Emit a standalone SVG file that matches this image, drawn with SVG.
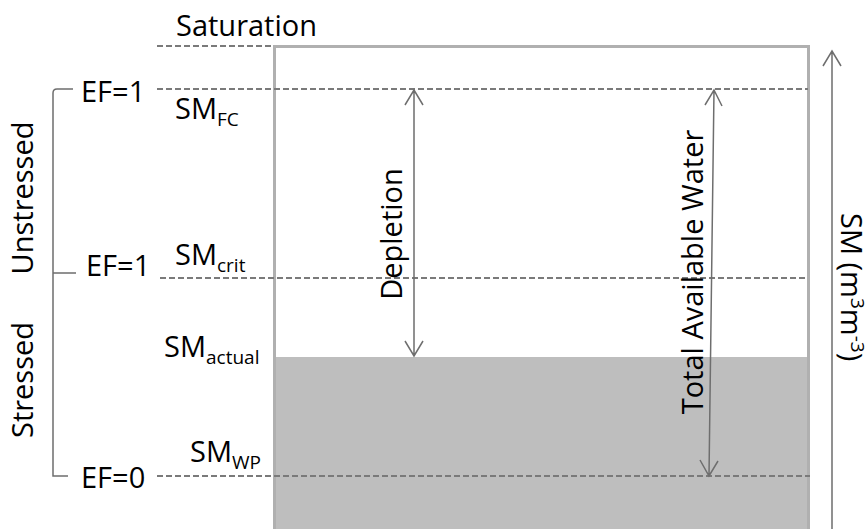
<svg xmlns="http://www.w3.org/2000/svg" width="867" height="529" viewBox="0 0 867 529">
<style>
text{font-family:"Open Sans","Liberation Sans",sans-serif;fill:#000;font-size:29px}
.sub{font-size:19px}
.dash{stroke:#7a7a7a;stroke-width:2;stroke-dasharray:6 3;fill:none}
.ln{stroke:#6e6e6e;stroke-width:1.5;fill:none}
.box{stroke:#b0b0b0;stroke-width:3;fill:none}
</style>
<rect x="0" y="0" width="867" height="529" fill="#fff"/>
<g id="soil">
<rect x="274" y="357" width="535" height="172" fill="#bebebe"/>
<path class="box" d="M274.5 529 V46.5 H808.5 V529"/>
</g>
<g id="levels">
<line class="dash" x1="157" y1="46" x2="273" y2="46"/>
<line class="dash" x1="157" y1="89" x2="808" y2="89"/>
<line class="dash" x1="160" y1="278" x2="808" y2="278"/>
<line class="dash" x1="157" y1="476" x2="810" y2="476"/>
</g>
<g id="bracket">
<path class="ln" d="M73 89 H57 Q53 89 53 93 V476 H68 M53 273 H76"/>
</g>
<g id="connectors">
<path class="ln" d="M414 90 V356 M405 105 L414 90 L423 105 M405 341 L414 356 L423 341"/>
<path class="ln" d="M714 90 L709 476 M705 105 L714 90 L722 106 M700 460 L709 476 L718 461"/>
<path class="ln" d="M832 51 V529 M823 66 L832 51 L841 66"/>
</g>
<g id="labels">
<text x="176" y="36">Saturation</text>
<text x="81" y="102">EF=1</text>
<text x="175" y="119">SM<tspan class="sub" dy="7">FC</tspan></text>
<text x="86" y="276">EF=1</text>
<text x="175" y="265">SM<tspan class="sub" dy="7">crit</tspan></text>
<text x="164" y="357">SM<tspan class="sub" dy="7">actual</tspan></text>
<text x="190" y="462">SM<tspan class="sub" dy="7">WP</tspan></text>
<text x="81" y="488">EF=0</text>
<text transform="translate(33,198) rotate(-90)" text-anchor="middle">Unstressed</text>
<text transform="translate(33,380) rotate(-90)" text-anchor="middle">Stressed</text>
<text transform="translate(402,234) rotate(-90)" text-anchor="middle">Depletion</text>
<text transform="translate(703,272) rotate(-90)" text-anchor="middle">Total Available Water</text>
<text transform="translate(841,213) rotate(90)">SM (m<tspan class="sub" dy="-10">3</tspan><tspan dy="10">m</tspan><tspan class="sub" dy="-10">-3</tspan><tspan dy="10">)</tspan></text>
</g>
</svg>
